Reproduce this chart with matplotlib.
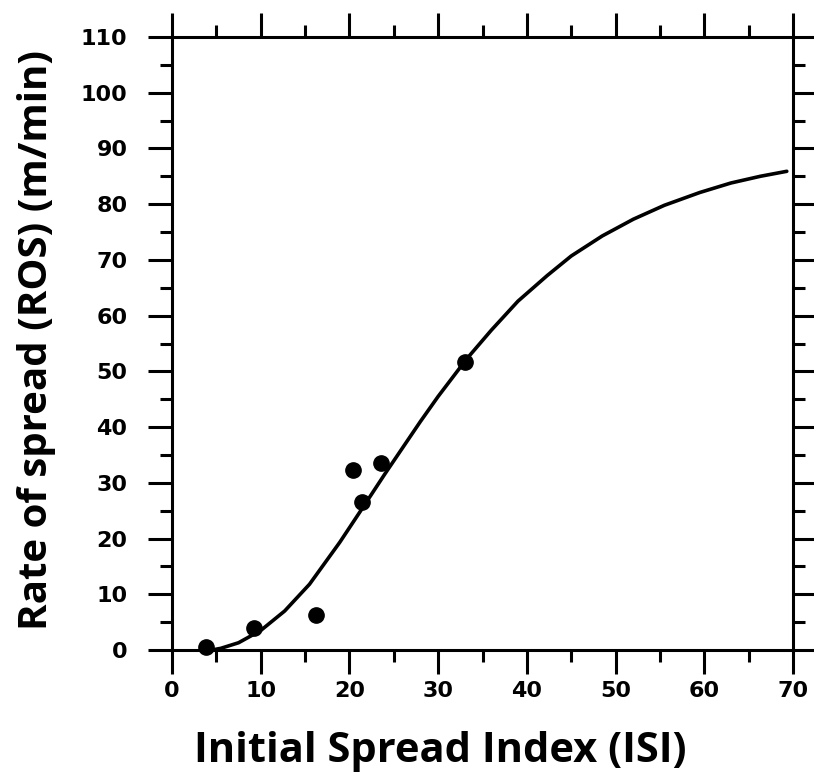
import matplotlib.pyplot as plt
from matplotlib.ticker import MultipleLocator

# observed fires
isi_obs = [3.8, 9.2, 16.2, 20.4, 21.4, 23.6, 33.0]
ros_obs = [0.5, 3.9, 6.3, 32.3, 26.6, 33.6, 51.7]

# fitted curve
isi_fit = [4.5, 5.5, 7.5, 10.0, 12.7, 15.5, 18.9, 21.4, 24.0, 28.0, 30.0, 33.2,
           36.0, 39.0, 42.3, 45.0, 48.5, 52.0, 55.5, 59.5, 63.0, 66.3, 69.3]
ros_fit = [0.0, 0.3, 1.3, 3.5, 7.0, 11.8, 19.3, 25.3, 31.6, 41.0, 45.5, 52.2,
           57.4, 62.6, 67.2, 70.7, 74.3, 77.3, 79.8, 82.1, 83.8, 85.0, 85.9]

fig = plt.figure(figsize=(8.14, 7.84), dpi=100)
ax = fig.add_axes([172 / 814, 1 - 650 / 784, 621 / 814, 613 / 784])

ax.plot(isi_fit, ros_fit, color='black', lw=2.6, solid_capstyle='round',
        solid_joinstyle='round')
ax.plot(isi_obs, ros_obs, 'o', color='black', ms=11, clip_on=False)

ax.set_xlim(0, 70)
ax.set_ylim(0, 110)
ax.xaxis.set_major_locator(MultipleLocator(10))
ax.xaxis.set_minor_locator(MultipleLocator(5))
ax.yaxis.set_major_locator(MultipleLocator(10))
ax.yaxis.set_minor_locator(MultipleLocator(5))

for s in ax.spines.values():
    s.set_linewidth(2.2)
ax.tick_params(which='both', direction='out', top=True, right=True, width=2.2)
ax.tick_params(which='major', length=17)
ax.tick_params(which='minor', length=8.5)
ax.tick_params(axis='y', pad=15)
ax.tick_params(axis='x', pad=5)
for lab in ax.get_xticklabels() + ax.get_yticklabels():
    lab.set_fontfamily('DejaVu Sans')
    lab.set_fontweight('bold')
    lab.set_fontsize(16)

fig.text(37 / 814, 1 - 340 / 784, 'Rate of spread (ROS) (m/min)', rotation=90,
         ha='center', va='center', fontsize=29, fontweight='bold',
         family='Open Sans')
fig.text(440 / 814, 1 - 752 / 784, 'Initial Spread Index (ISI)',
         ha='center', va='center', fontsize=30, fontweight='bold',
         family='Open Sans')

fig.savefig('out.png', dpi=100)
